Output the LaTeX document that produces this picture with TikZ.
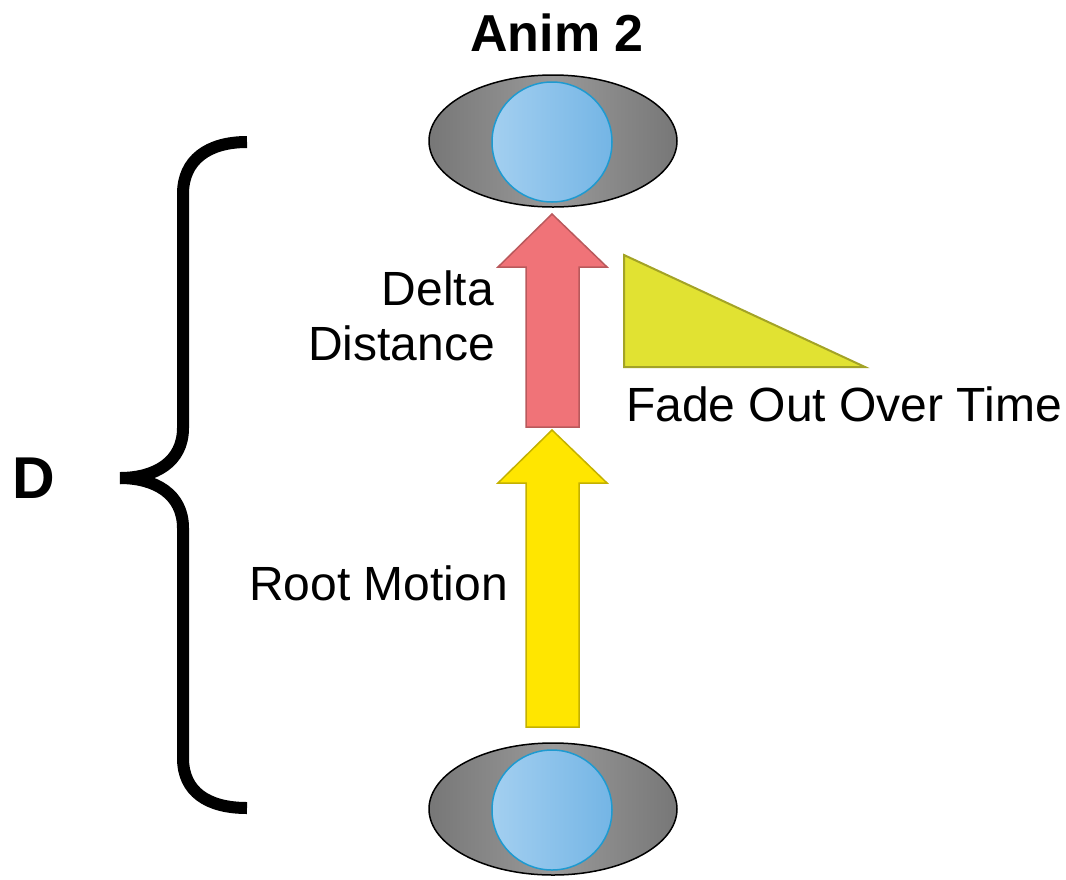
\documentclass[tikz,border=0pt]{standalone}
\usepackage{fontspec}
\setmainfont{Liberation Sans}
\usetikzlibrary{shapes.geometric}
\definecolor{graydark}{HTML}{777777}
\definecolor{graylight}{HTML}{999999}
\definecolor{balll}{HTML}{A3CFF0}
\definecolor{ballr}{HTML}{74B5E5}
\definecolor{ballborder}{HTML}{1E9AD0}
\definecolor{redfill}{HTML}{F07378}
\definecolor{redline}{HTML}{B9595C}
\definecolor{yelfill}{HTML}{FFE600}
\definecolor{yelline}{HTML}{C4B100}
\definecolor{trifill}{HTML}{E1E232}
\definecolor{triline}{HTML}{A3A326}
\begin{document}
\begin{tikzpicture}[x=1pt,y=-1pt,
  every node/.style={inner sep=0pt, outer sep=0pt},
  body/.style={ellipse, draw=black, line width=1.5pt, minimum width=248pt, minimum height=132pt,
    left color=graydark, right color=graydark, middle color=graylight},
  ball/.style={circle, draw=ballborder, line width=1.5pt, minimum size=120pt,
    left color=balll, right color=ballr},
  redarrow/.style={fill=redfill, draw=redline, line width=1.5pt, line join=miter},
  yelarrow/.style={fill=yelfill, draw=yelline, line width=1.5pt, line join=miter},
  fadetri/.style={fill=trifill, draw=triline, line width=2pt, line join=miter},
  brace/.style={draw=black, line width=12pt, line cap=butt},
  lbl/.style={font=\fontsize{48}{57}\selectfont},
  bigbold/.style={font=\fontsize{52}{62}\selectfont\bfseries},
  dbold/.style={font=\fontsize{59}{70}\selectfont\bfseries}
]
\useasboundingbox (0,0) rectangle (1066,879);

% title
\node[bigbold, anchor=base] (title) at (557,51) {Anim 2};

% bodies
\node[body] (topbody) at (553,141) {};
\node[ball] (topball) at (552,142) {};
\node[body] (botbody) at (553,809) {};
\node[ball] (botball) at (552,810) {};

% red arrow
\draw[redarrow] (552,214) -- (607,267) -- (579,267) -- (579,427) -- (526,427) -- (526,267) -- (498,267) -- cycle;
% yellow arrow
\draw[yelarrow] (552,430) -- (607,483) -- (579,483) -- (579,727) -- (526,727) -- (526,483) -- (498,483) -- cycle;
% triangle
\draw[fadetri] (624,255) -- (865,367) -- (624,367) -- cycle;

% brace
\draw[brace] (247,142) .. controls (208,142) and (183,160) .. (183,194) -- (183,428) .. controls (183,462) and (155,478) .. (120,478);
\draw[brace] (120,478) .. controls (155,478) and (183,494) .. (183,528) -- (183,758) .. controls (183,792) and (208,808) .. (247,808);

% labels
\node[lbl, anchor=base east] (delta) at (494,305) {Delta};
\node[lbl, anchor=base east] (distance) at (495,360) {Distance};
\node[lbl, anchor=base west] (fade) at (626,421) {Fade Out Over Time};
\node[lbl, anchor=base west] (root) at (249,600) {Root Motion};
\node[dbold, anchor=base] (d) at (34,498) {D};
\end{tikzpicture}
\end{document}
